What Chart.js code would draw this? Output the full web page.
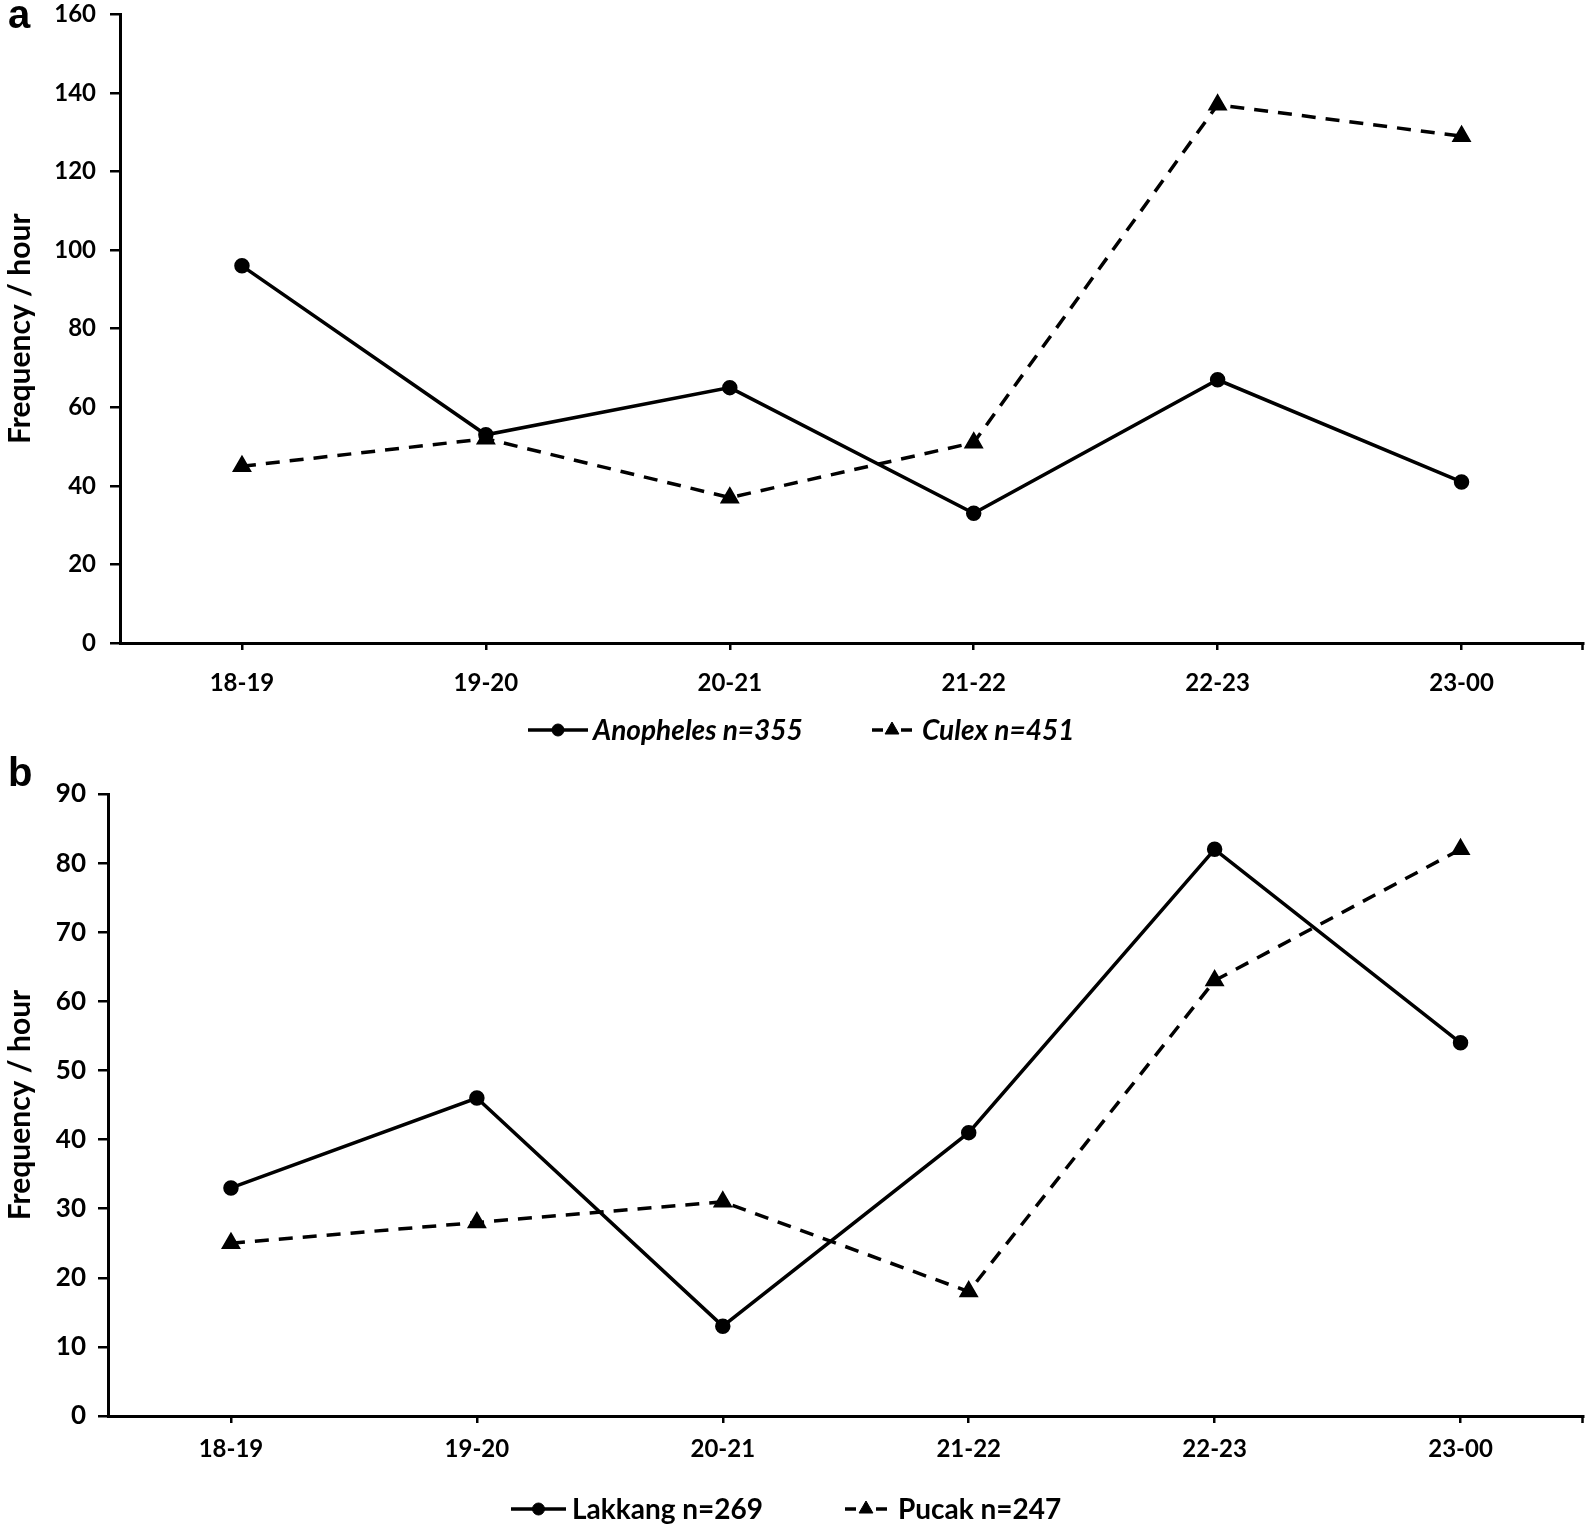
<!DOCTYPE html>
<html><head><meta charset="utf-8">
<script src="https://cdn.jsdelivr.net/npm/chart.js@4.4.1/dist/chart.umd.min.js"></script>
<style>
html,body{margin:0;padding:0;background:#fff;}
#wrap{position:relative;width:1595px;height:1527px;background:#fff;overflow:hidden;}
.cv{position:absolute;left:0;}
.panel{position:absolute;font-family:"Liberation Sans",Arial,sans-serif;font-weight:bold;color:#000;line-height:1;}
</style></head><body>
<div id="wrap">
<div class="cv" style="top:-14px;width:1595px;height:776px"><canvas id="ca"></canvas></div>
<div class="cv" style="top:762px;width:1595px;height:765px"><canvas id="cb"></canvas></div>
<div class="panel" style="left:8px;top:-6px;font-size:40px">a</div>
<div class="panel" style="left:8px;top:752px;font-size:40px">b</div>
</div>
<script>
// ---- data ----
const hours = ['18-19','19-20','20-21','21-22','22-23','23-00'];
const anopheles = [96, 53, 65, 33, 67, 41];
const culex = [45, 52, 37, 51, 137, 129];
const lakkang = [33, 46, 13, 41, 82, 54];
const pucak = [25, 28, 31, 18, 63, 82];
const labelsA = ['Anopheles n=355', 'Culex n=451'];
const labelsB = ['Lakkang n=269', 'Pucak n=247'];
const yMaxA = 160, yStepA = 20;
const yMaxB = 90, yStepB = 10;
const yTitle = 'Frequency / hour';

const FONT = 'Lato, "Open Sans", sans-serif';

const lineLegend = {
  id: 'lineLegend',
  afterDraw(chart, args, opts) {
    const ctx = chart.ctx;
    chart.data.datasets.forEach((ds, i) => {
      const x = opts.xs[i], y = opts.y, w = opts.sampleW[i];
      ctx.save();
      ctx.strokeStyle = '#000'; ctx.fillStyle = '#000';
      ctx.lineWidth = ds.borderWidth;
      if (ds.borderDash) {
        ctx.beginPath(); ctx.moveTo(x, y); ctx.lineTo(x + 11, y); ctx.stroke();
        ctx.beginPath(); ctx.moveTo(x + w - 11, y); ctx.lineTo(x + w, y); ctx.stroke();
      } else {
        ctx.beginPath(); ctx.moveTo(x, y); ctx.lineTo(x + w, y); ctx.stroke();
      }
      ctx.lineWidth = 1;
      Chart.helpers.drawPoint(ctx, {pointStyle: ds.pointStyle, radius: ds.pointRadius, rotation: 0, borderWidth: 1}, x + w / 2, y);
      ctx.font = opts.font;
      ctx.textBaseline = 'middle'; ctx.textAlign = 'left';
      ctx.fillText(ds.label, opts.textXs[i], y + 1);
      ctx.restore();
    });
    // end tick on the x axis
    const ca = chart.chartArea;
    ctx.save();
    ctx.strokeStyle = '#000'; ctx.lineWidth = 2.5;
    ctx.beginPath(); ctx.moveTo(ca.right - 1, ca.bottom); ctx.lineTo(ca.right - 1, ca.bottom + 7); ctx.stroke();
    ctx.restore();
  }
};

function makeChart(id, a, b, labels, yMax, yStep, cfg) {
  return new Chart(document.getElementById(id), {
    type: 'line',
    data: {
      labels: hours,
      datasets: [
        {label: labels[0], data: a, borderColor: '#000', backgroundColor: '#000', borderWidth: 3.5,
         pointStyle: 'circle', pointRadius: 6, pointBackgroundColor: '#000', pointBorderColor: '#000', tension: 0},
        {label: labels[1], data: b, borderColor: '#000', backgroundColor: '#000', borderWidth: 3.5, borderDash: [14, 10],
         pointStyle: 'triangle', pointRadius: 8, pointBackgroundColor: '#000', pointBorderColor: '#000', tension: 0}
      ]
    },
    options: {
      responsive: true, maintainAspectRatio: false, animation: false,
      layout: {padding: cfg.padding},
      plugins: {
        legend: {display: false}, tooltip: {enabled: false},
        lineLegend: cfg.legend
      },
      scales: {
        x: {
          type: 'category', offset: true,
          grid: {display: true, drawOnChartArea: false, drawTicks: true, tickLength: 7, color: '#000', lineWidth: 2.5},
          border: {display: true, color: '#000', width: 3},
          ticks: {color: '#000', font: {family: FONT, weight: 'bold', size: cfg.xFont}, padding: cfg.xPad, maxRotation: 0},
          afterFit: s => { s.height = 50; }
        },
        y: {
          min: 0, max: yMax,
          grid: {display: true, drawOnChartArea: false, drawTicks: true, tickLength: 10, color: '#000', lineWidth: 2.5},
          border: {display: true, color: '#000', width: 3},
          ticks: {stepSize: yStep, color: '#000', font: {family: FONT, weight: 'bold', size: cfg.yFont}, padding: cfg.yPad},
          title: {display: true, text: yTitle, color: '#000', font: {family: FONT, weight: 'bold', size: 30}, padding: {top: 2, bottom: 0}},
          afterFit: s => { s.width = cfg.yWidth; }
        }
      }
    },
    plugins: [lineLegend]
  });
}

makeChart('ca', anopheles, culex, labelsA, yMaxA, yStepA, {
  padding: {top: 2, bottom: 69, left: 0, right: 3},
  xFont: 24, yFont: 24, xPad: 19, yPad: 14, yWidth: 120,
  legend: {xs: [528, 872], textXs: [593, 922], y: 744, sampleW: [60, 40], font: 'italic bold 28px ' + FONT}
});
makeChart('cb', lakkang, pucak, labelsB, yMaxB, yStepB, {
  padding: {top: 32, bottom: 61, left: 0, right: 3},
  xFont: 24, yFont: 26, xPad: 12, yPad: 12, yWidth: 108,
  legend: {xs: [511, 845], textXs: [572, 898], y: 747, sampleW: [55, 42], font: 'bold 28px ' + FONT}
});
</script>
</body></html>
